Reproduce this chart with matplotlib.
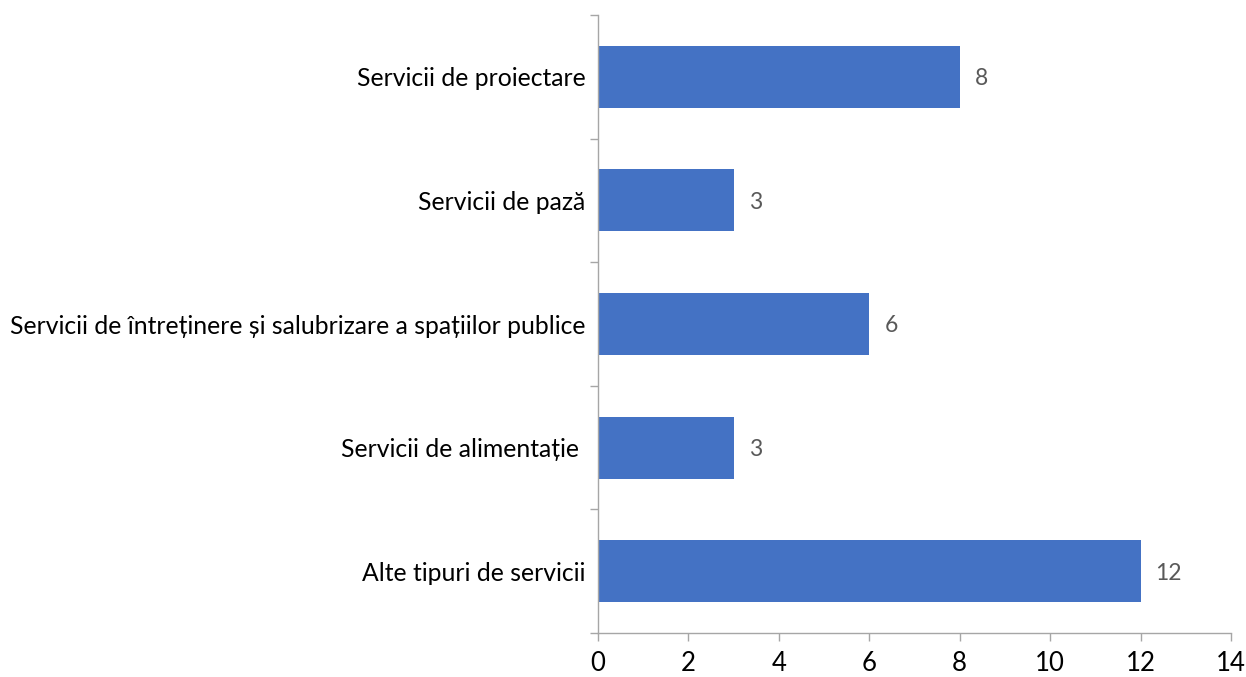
import matplotlib
matplotlib.use("Agg")
import matplotlib.pyplot as plt
import numpy as np

categories = ["Servicii de proiectare", "Servicii de pază",
              "Servicii de întreținere și salubrizare a spațiilor publice",
              "Servicii de alimentație ", "Alte tipuri de servicii"]
values = [8, 3, 6, 3, 12]
xticks = [0, 2, 4, 6, 8, 10, 12, 14]

plt.rcParams['font.family'] = ['Lato', 'DejaVu Sans']

fig = plt.figure(figsize=(12.46, 6.77), dpi=100)
ax = fig.add_axes([598/1246, 1-633/677, (1231-598)/1246, (633-15)/677])

n = len(categories)
ypos = np.arange(n)[::-1]
ax.barh(ypos, values, height=0.5, color='#4472C4', zorder=2)
for y, v in zip(ypos, values):
    ax.annotate(str(v), (v, y), xytext=(15, -2), textcoords='offset pixels',
                va='center', ha='left', fontsize=16.5, color='#595959')

ax.set_xlim(0, 14)
ax.set_ylim(-0.5, n - 0.5)
ax.set_xticks(xticks)
ax.set_xticklabels([str(t) for t in xticks], fontsize=18.5, color='black')
ax.set_yticks(ypos)
ax.set_yticklabels(categories, fontsize=17.8, color='black')
ax.set_yticks(np.arange(-0.5, n, 1.0), minor=True)
ax.tick_params(axis='y', which='major', length=0, pad=9)
ax.tick_params(axis='y', which='minor', length=6, color='#A6A6A6', width=1)
ax.tick_params(axis='x', which='major', length=6, color='#A6A6A6', width=1, pad=7)
for s in ['top', 'right']:
    ax.spines[s].set_visible(False)
for s in ['left', 'bottom']:
    ax.spines[s].set_color('#A6A6A6')
    ax.spines[s].set_linewidth(1)

fig.savefig('out.png', dpi=100)
